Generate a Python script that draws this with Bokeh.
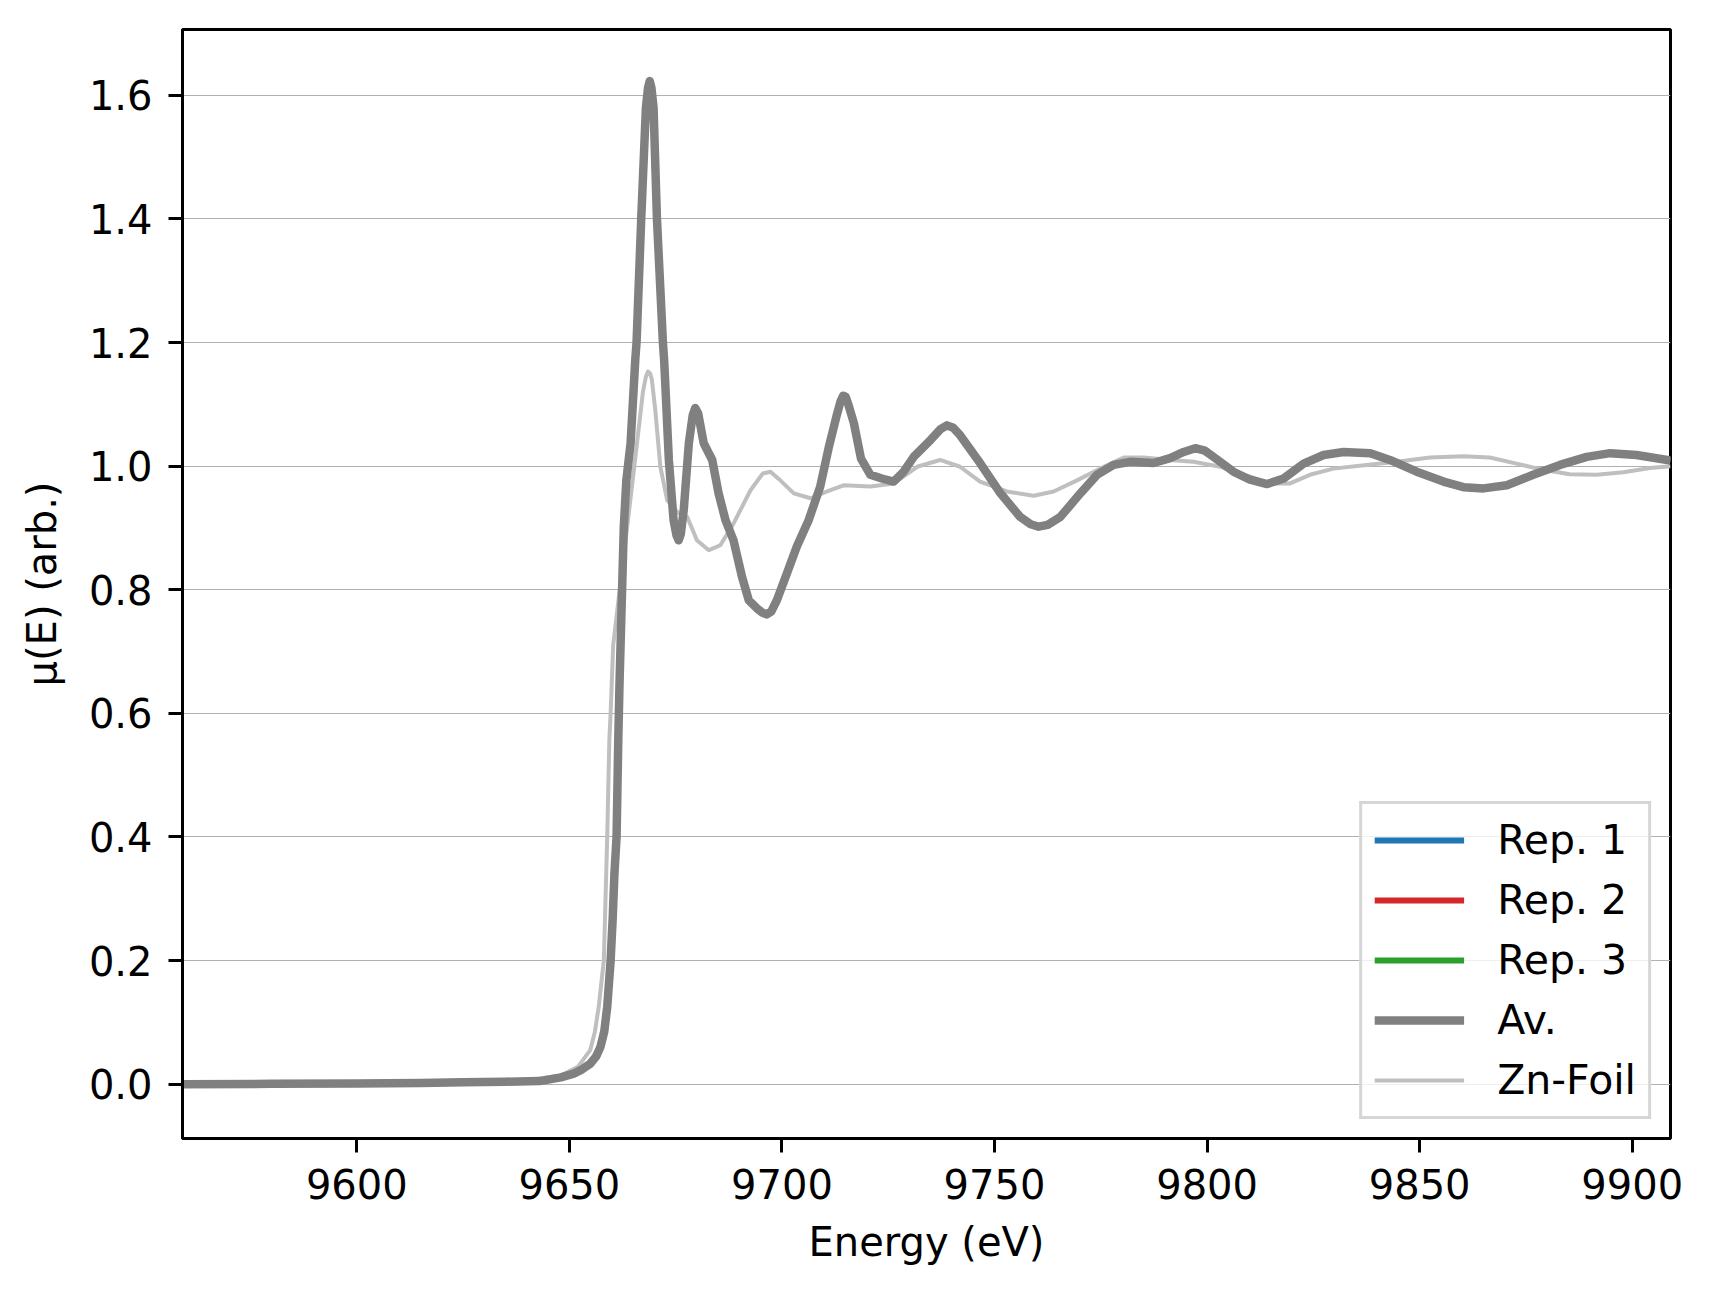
from bokeh.plotting import figure
from bokeh.models import Range1d, FixedTicker, PrintfTickFormatter, Legend, LegendItem
from bokeh.embed import file_html
from bokeh.resources import INLINE

# ---- data ----
av_energy = [9559, 9580, 9600, 9615, 9625, 9635, 9643, 9648, 9651, 9653, 9654.9, 9656.3, 9657.3,
             9658.2, 9658.9, 9659.7, 9660.2, 9660.6, 9661.1, 9661.5, 9661.8, 9662.2, 9662.8, 9663.4,
             9664.4, 9665.5, 9665.8, 9666.9, 9668.0, 9668.5, 9668.9, 9669.3, 9669.8, 9670.6, 9672.0,
             9672.3, 9673.4, 9674.5, 9675.2, 9675.7, 9676.2, 9676.9, 9678.1, 9679.0, 9679.6, 9680.3,
             9681.6, 9683.6, 9685.1, 9686.7, 9688.6, 9690.6, 9692.2, 9694.1, 9695.4, 9696.4, 9697.5,
             9698.8, 9701.2, 9703.5, 9706.3, 9709.0, 9711.0, 9712.8, 9713.8, 9714.4, 9715.0, 9715.6,
             9716.9, 9718.6, 9720.8, 9723.5, 9726.3, 9728.5, 9731.0, 9734.9, 9737.3, 9738.8, 9740.3,
             9741.9, 9746.6, 9751.4, 9756.0, 9758.5, 9760.4, 9762.5, 9765.5, 9770.2, 9774.1, 9778.0,
             9781.9, 9787.4, 9791.3, 9794.5, 9797.2, 9799.5, 9801.5, 9806.2, 9810.1, 9814.1, 9818.0,
             9822.7, 9827.4, 9832.1, 9838.4, 9843.0, 9849.3, 9855.6, 9860.3, 9865.0, 9870.5, 9876.7,
             9883.0, 9889.3, 9894.8, 9901.0, 9909.0]
av_mu = [0.000, 0.0005, 0.001, 0.002, 0.003, 0.004, 0.005, 0.011, 0.017, 0.024, 0.033, 0.045, 0.060,
         0.085, 0.125, 0.200, 0.270, 0.341, 0.400, 0.557, 0.650, 0.750, 0.902, 0.977,
         1.037, 1.172, 1.200, 1.400, 1.580, 1.612, 1.623, 1.612, 1.580, 1.400, 1.200,
         1.170, 1.010, 0.913, 0.888, 0.880, 0.890, 0.929, 1.037, 1.082, 1.094, 1.085,
         1.037, 1.010, 0.956, 0.913, 0.880, 0.821, 0.783, 0.770, 0.763, 0.760, 0.765,
         0.783, 0.827, 0.870, 0.913, 0.967, 1.030, 1.080, 1.105, 1.114, 1.112, 1.100,
         1.070, 1.012, 0.986, 0.980, 0.975, 0.990, 1.015, 1.042, 1.060, 1.066, 1.062,
         1.050, 1.005, 0.956, 0.918, 0.906, 0.902, 0.905, 0.918, 0.956, 0.986, 1.002,
         1.007, 1.005, 1.013, 1.023, 1.029, 1.025, 1.015, 0.991, 0.978, 0.971, 0.980,
         1.004, 1.018, 1.023, 1.021, 1.010, 0.991, 0.975, 0.966, 0.964, 0.969, 0.986,
         1.002, 1.015, 1.021, 1.018, 1.009]

# the three replicates coincide with the average in the reference (hidden beneath it)
rep1_mu = list(av_mu)
rep2_mu = list(av_mu)
rep3_mu = list(av_mu)

foil_energy = [9559, 9600, 9625, 9640, 9648, 9652, 9654.9, 9656.0, 9656.9, 9658.1, 9658.5, 9658.9,
               9659.4, 9659.7, 9660.3, 9661.5, 9663.6, 9665.9, 9667.3, 9668.0, 9668.5, 9669.0,
               9669.4, 9670.2, 9671.4, 9673.0, 9675.3, 9677.7, 9680.0, 9682.8, 9685.5, 9688.6,
               9692.6, 9695.5, 9697.3, 9699.6, 9702.8, 9706.7, 9710.6, 9714.5, 9720.8, 9726.3,
               9731.8, 9737.2, 9741.9, 9746.6, 9752.9, 9759.2, 9763.9, 9769.4, 9775.7, 9780.4,
               9785.1, 9791.3, 9796.8, 9803.1, 9810.1, 9814.8, 9819.5, 9824.2, 9829.7, 9837.5,
               9844.6, 9852.4, 9860.3, 9866.5, 9872.8, 9879.0, 9885.3, 9891.6, 9897.9, 9904.2,
               9909.0]
foil_mu = [0.000, 0.001, 0.003, 0.006, 0.014, 0.028, 0.055, 0.085, 0.125, 0.200, 0.300, 0.400,
           0.557, 0.600, 0.710, 0.780, 0.902, 1.037, 1.120, 1.145, 1.153, 1.150,
           1.140, 1.091, 0.999, 0.945, 0.926, 0.918, 0.880, 0.864, 0.872, 0.907,
           0.961, 0.988, 0.991, 0.977, 0.956, 0.948, 0.959, 0.969, 0.967, 0.972,
           0.999, 1.010, 0.999, 0.975, 0.959, 0.952, 0.959, 0.977, 0.999, 1.014,
           1.014, 1.010, 1.007, 0.999, 0.983, 0.972, 0.972, 0.986, 0.996, 1.002,
           1.007, 1.014, 1.016, 1.014, 1.004, 0.994, 0.987, 0.986, 0.990, 0.997,
           1.000]

x_ticks = [9600, 9650, 9700, 9750, 9800, 9850, 9900]
y_ticks = [0.0, 0.2, 0.4, 0.6, 0.8, 1.0, 1.2, 1.4, 1.6]
labels = ["Rep. 1", "Rep. 2", "Rep. 3", "Av.", "Zn-Foil"]
colors = ["#1f77b4", "#d62728", "#2ca02c", "#808080", "#bfbfbf"]

FONT = "DejaVu Sans"
FS = "40px"

p = figure(width=1698, height=1278, output_backend="svg", toolbar_location=None,
           x_range=Range1d(9559.0, 9909.0), y_range=Range1d(-0.0879, 1.7065),
           min_border_left=182, min_border_right=28, min_border_top=29, min_border_bottom=140)
p.background_fill_color = "white"
p.border_fill_color = "white"
p.outline_line_color = "black"
p.outline_line_width = 3

p.xgrid.grid_line_color = None
p.ygrid.grid_line_color = "#b0b0b0"
p.ygrid.grid_line_width = 1
p.ygrid.ticker = FixedTicker(ticks=y_ticks)

p.xaxis.ticker = FixedTicker(ticks=x_ticks)
p.yaxis.ticker = FixedTicker(ticks=y_ticks)
p.yaxis.formatter = PrintfTickFormatter(format="%.1f")
p.xaxis.formatter = PrintfTickFormatter(format="%d")
for ax in (p.xaxis, p.yaxis):
    ax.axis_line_color = "black"
    ax.axis_line_width = 3
    ax.major_tick_line_width = 3
    ax.major_tick_out = 14
    ax.major_tick_in = 0
    ax.minor_tick_line_color = None
    ax.major_label_text_font = FONT
    ax.major_label_text_font_size = FS
    ax.major_label_text_color = "black"
    ax.axis_label_text_font = FONT
    ax.axis_label_text_font_size = FS
    ax.axis_label_text_font_style = "normal"
    ax.axis_label_text_color = "black"
p.xaxis.axis_label = "Energy (eV)"
p.yaxis.axis_label = "μ(E) (arb.)"
p.xaxis.major_label_standoff = 16
p.yaxis.major_label_standoff = 16
p.xaxis.axis_label_standoff = 17
p.yaxis.axis_label_standoff = 21

# draw: foil underneath, then replicates, then average on top
r_foil = p.line(foil_energy, foil_mu, line_color=colors[4], line_width=4, line_join="round")
r1 = p.line(av_energy, rep1_mu, line_color=colors[0], line_width=6)
r2 = p.line(av_energy, rep2_mu, line_color=colors[1], line_width=6)
r3 = p.line(av_energy, rep3_mu, line_color=colors[2], line_width=6)
r_av = p.line(av_energy, av_mu, line_color=colors[3], line_width=8.5, line_join="round")

legend = Legend(items=[LegendItem(label=labels[0], renderers=[r1]),
                       LegendItem(label=labels[1], renderers=[r2]),
                       LegendItem(label=labels[2], renderers=[r3]),
                       LegendItem(label=labels[3], renderers=[r_av]),
                       LegendItem(label=labels[4], renderers=[r_foil])],
                location="bottom_right")
legend.margin = 19
legend.padding = 12
legend.spacing = 12
legend.glyph_width = 90
legend.glyph_height = 40
legend.label_height = 40
legend.label_standoff = 33
legend.label_text_font = FONT
legend.label_text_font_size = "41px"
legend.label_text_color = "black"
legend.border_line_color = "#cccccc"
legend.border_line_width = 3
legend.border_line_alpha = 0.8
legend.background_fill_color = "white"
legend.background_fill_alpha = 0.8
p.add_layout(legend)

open("out.html", "w").write(file_html(p, INLINE))
